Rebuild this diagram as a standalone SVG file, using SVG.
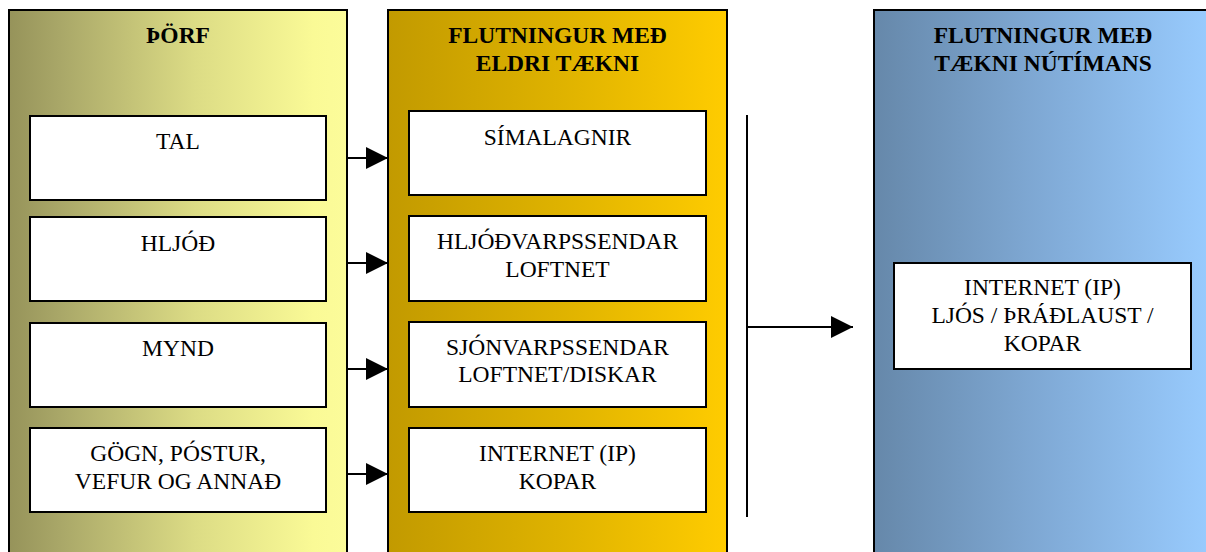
<svg xmlns="http://www.w3.org/2000/svg" width="1206" height="552" viewBox="0 0 1206 552">
<style>
.panel{stroke:#000;stroke-width:2}
.box{fill:#fff;stroke:#000;stroke-width:2}
.h{font-family:'Liberation Serif','DejaVu Serif',serif;font-weight:bold;font-size:23.5px;text-anchor:middle;fill:#000}
.t{font-family:'Liberation Serif','DejaVu Serif',serif;font-size:23.5px;text-anchor:middle;fill:#000}
.c{stroke:#000;stroke-width:2;fill:none}
</style>
<defs>
<linearGradient id="gL" x1="0" y1="0" x2="1" y2="0">
<stop offset="0" stop-color="#96935a"/>
<stop offset="0.15" stop-color="#a9a768"/>
<stop offset="0.55" stop-color="#dcdc85"/>
<stop offset="0.9" stop-color="#fafa96"/>
<stop offset="1" stop-color="#fcfc9a"/>
</linearGradient>
<linearGradient id="gM" x1="0" y1="0" x2="1" y2="0">
<stop offset="0" stop-color="#c29a00"/>
<stop offset="0.5" stop-color="#deb200"/>
<stop offset="1" stop-color="#ffcc00"/>
</linearGradient>
<linearGradient id="gR" x1="0" y1="0" x2="1" y2="0">
<stop offset="0" stop-color="#6688aa"/>
<stop offset="0.5" stop-color="#80aad6"/>
<stop offset="1" stop-color="#99ccff"/>
</linearGradient>
<marker id="ah" markerUnits="userSpaceOnUse" markerWidth="22" markerHeight="22" refX="22" refY="11" orient="auto">
<path d="M0,0 L22,11 L0,22 Z" fill="#000"/>
</marker>
</defs>

<g id="panel-thorf">
<rect class="panel" x="9" y="10" width="338" height="560" fill="url(#gL)"/>
<text class="h" x="178" y="43">ÞÖRF</text>
</g>
<g id="panel-eldri">
<rect class="panel" x="388" y="10" width="339" height="560" fill="url(#gM)"/>
<text class="h" x="557.5" y="43">FLUTNINGUR MEÐ</text>
<text class="h" x="557.5" y="70.5">ELDRI TÆKNI</text>
</g>
<g id="panel-nutima">
<rect class="panel" x="874" y="10" width="340" height="560" fill="url(#gR)"/>
<text class="h" x="1043" y="43">FLUTNINGUR MEÐ</text>
<text class="h" x="1043" y="70.5">TÆKNI NÚTÍMANS</text>
</g>

<g id="node-tal">
<rect class="box" x="30" y="116" width="296" height="84"/>
<text class="t" x="178" y="149">TAL</text>
</g>
<g id="node-hljod">
<rect class="box" x="30" y="217" width="296" height="84"/>
<text class="t" x="178" y="251">HLJÓÐ</text>
</g>
<g id="node-mynd">
<rect class="box" x="30" y="323" width="296" height="84"/>
<text class="t" x="178" y="356">MYND</text>
</g>
<g id="node-gogn">
<rect class="box" x="30" y="428" width="296" height="84"/>
<text class="t" x="178" y="461">GÖGN, PÓSTUR,</text>
<text class="t" x="178" y="488.5">VEFUR OG ANNAÐ</text>
</g>

<g id="node-simalagnir">
<rect class="box" x="409" y="111" width="297" height="84"/>
<text class="t" x="557.5" y="145">SÍMALAGNIR</text>
</g>
<g id="node-hljodvarp">
<rect class="box" x="409" y="216" width="297" height="85"/>
<text class="t" x="557.5" y="248.5">HLJÓÐVARPSSENDAR</text>
<text class="t" x="557.5" y="276.5">LOFTNET</text>
</g>
<g id="node-sjonvarp">
<rect class="box" x="409" y="322" width="297" height="85"/>
<text class="t" x="557.5" y="354.5">SJÓNVARPSSENDAR</text>
<text class="t" x="557.5" y="382">LOFTNET/DISKAR</text>
</g>
<g id="node-internet-kopar">
<rect class="box" x="409" y="428" width="297" height="84"/>
<text class="t" x="557.5" y="460.5">INTERNET (IP)</text>
<text class="t" x="557.5" y="489">KOPAR</text>
</g>

<g id="node-internet-nutima">
<rect class="box" x="894" y="263" width="297" height="106"/>
<text class="t" x="1042.5" y="295">INTERNET (IP)</text>
<text class="t" x="1042.5" y="322.5">LJÓS / ÞRÁÐLAUST /</text>
<text class="t" x="1042.5" y="351">KOPAR</text>
</g>

<g id="connectors">
<line class="c" x1="347" y1="158" x2="388" y2="158" marker-end="url(#ah)"/>
<line class="c" x1="347" y1="263" x2="388" y2="263" marker-end="url(#ah)"/>
<line class="c" x1="347" y1="369" x2="388" y2="369" marker-end="url(#ah)"/>
<line class="c" x1="347" y1="474" x2="388" y2="474" marker-end="url(#ah)"/>
<line class="c" x1="747" y1="115" x2="747" y2="517"/>
<line class="c" x1="747" y1="327" x2="853" y2="327" marker-end="url(#ah)"/>
</g>
</svg>
